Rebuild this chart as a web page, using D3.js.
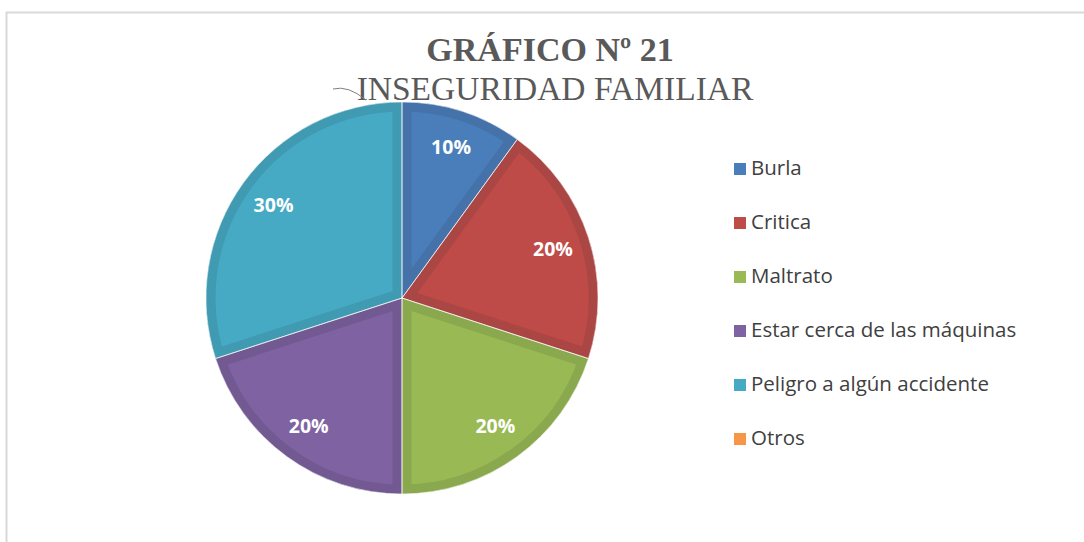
<!DOCTYPE html>
<html>
<head>
<meta charset="utf-8">
<script src="https://cdn.jsdelivr.net/npm/d3@7"></script>
<style>
  body { margin: 0; background: #fff; }
  svg { display: block; }
</style>
</head>
<body>
<div id="chart"></div>
<script>
// datos del gráfico
const categories = ["Burla", "Critica", "Maltrato", "Estar cerca de las máquinas", "Peligro a algún accidente", "Otros"];
const values = [10, 20, 20, 20, 30, 0];
const labels = ["10%", "20%", "20%", "20%", "30%", ""];
const colors = ["#4A7EBB", "#BE4B48", "#98B954", "#7E62A1", "#46AAC5", "#F79646"];
const edgeColors = ["#4472A9", "#AA4644", "#8AA84D", "#725991", "#3F9AB2", "#DF8840"];

const W = 1084, H = 542;

const svg = d3.select("#chart")
    .append("svg")
    .attr("width", W)
    .attr("height", H);

// marco del gráfico
svg.append("rect")
    .attr("x", 6.5)
    .attr("y", 12.5)
    .attr("width", W + 20)
    .attr("height", H + 20)
    .attr("fill", "none")
    .attr("stroke", "#d9d9d9")
    .attr("stroke-width", 2);

// títulos
svg.append("text")
    .attr("x", 550)
    .attr("y", 61)
    .attr("text-anchor", "middle")
    .style("font-family", "'Liberation Serif', 'Times New Roman', serif")
    .style("font-weight", "bold")
    .style("font-size", "34px")
    .style("fill", "#595959")
    .text("GRÁFICO Nº 21");

svg.append("text")
    .attr("x", 555)
    .attr("y", 100)
    .attr("text-anchor", "middle")
    .style("font-family", "'Liberation Serif', 'Times New Roman', serif")
    .style("font-size", "33.5px")
    .style("fill", "#595959")
    .text("INSEGURIDAD FAMILIAR");

// pie
const cx = 402, cy = 298, radius = 196;

const g = svg.append("g")
    .attr("transform", `translate(${cx},${cy})`);

const pie = d3.pie()
    .value(d => d.value)
    .sort(null);

const data = categories.map((c, i) => ({ name: c, value: values[i], label: labels[i], i }));
const arcs = pie(data).filter(d => d.data.value > 0);

const arc = d3.arc().innerRadius(0).outerRadius(radius);
const labelArc = d3.arc().innerRadius(radius * 0.81).outerRadius(radius * 0.81);

// clip para el borde interior (efecto bisel)
const defs = svg.append("defs");
arcs.forEach(d => {
    defs.append("clipPath")
        .attr("id", "clip" + d.data.i)
        .append("path")
        .attr("d", arc(d));
});

g.selectAll("path.slice")
    .data(arcs)
    .enter()
    .append("path")
    .attr("class", "slice")
    .attr("d", arc)
    .attr("fill", d => colors[d.data.i]);

g.selectAll("path.bevel")
    .data(arcs)
    .enter()
    .append("path")
    .attr("class", "bevel")
    .attr("d", arc)
    .attr("fill", "none")
    .attr("stroke", d => edgeColors[d.data.i])
    .attr("stroke-width", 19)
    .attr("stroke-linejoin", "round")
    .attr("clip-path", d => `url(#clip${d.data.i})`);

g.selectAll("path.sep")
    .data(arcs)
    .enter()
    .append("path")
    .attr("class", "sep")
    .attr("d", arc)
    .attr("fill", "none")
    .attr("stroke", "#ffffff")
    .attr("stroke-opacity", 0.6)
    .attr("stroke-width", 1);

// porcentajes
g.selectAll("text.pct")
    .data(arcs)
    .enter()
    .append("text")
    .attr("class", "pct")
    .attr("transform", d => `translate(${labelArc.centroid(d)})`)
    .attr("text-anchor", "middle")
    .attr("dy", "0.35em")
    .style("font-family", "'Open Sans', 'Liberation Sans', sans-serif")
    .style("font-weight", "bold")
    .style("font-size", "19.5px")
    .style("fill", "#ffffff")
    .text(d => d.data.label);

// línea suelta junto al título
svg.append("path")
    .attr("d", "M333,89 Q348,85 366,100")
    .attr("fill", "none")
    .attr("stroke", "#7f7f7f")
    .attr("stroke-width", 1);

// leyenda
const legend = svg.append("g")
    .attr("transform", "translate(734,168)");

const item = legend.selectAll("g")
    .data(categories)
    .enter()
    .append("g")
    .attr("transform", (d, i) => `translate(0,${i * 54})`);

item.append("rect")
    .attr("x", 0)
    .attr("y", -5)
    .attr("width", 12)
    .attr("height", 12)
    .attr("fill", (d, i) => colors[i]);

item.append("text")
    .attr("x", 17)
    .attr("y", 0)
    .attr("dy", "0.35em")
    .style("font-family", "'Open Sans', 'Liberation Sans', sans-serif")
    .style("font-size", "20.5px")
    .style("fill", "#404040")
    .text(d => d);
</script>
</body>
</html>
